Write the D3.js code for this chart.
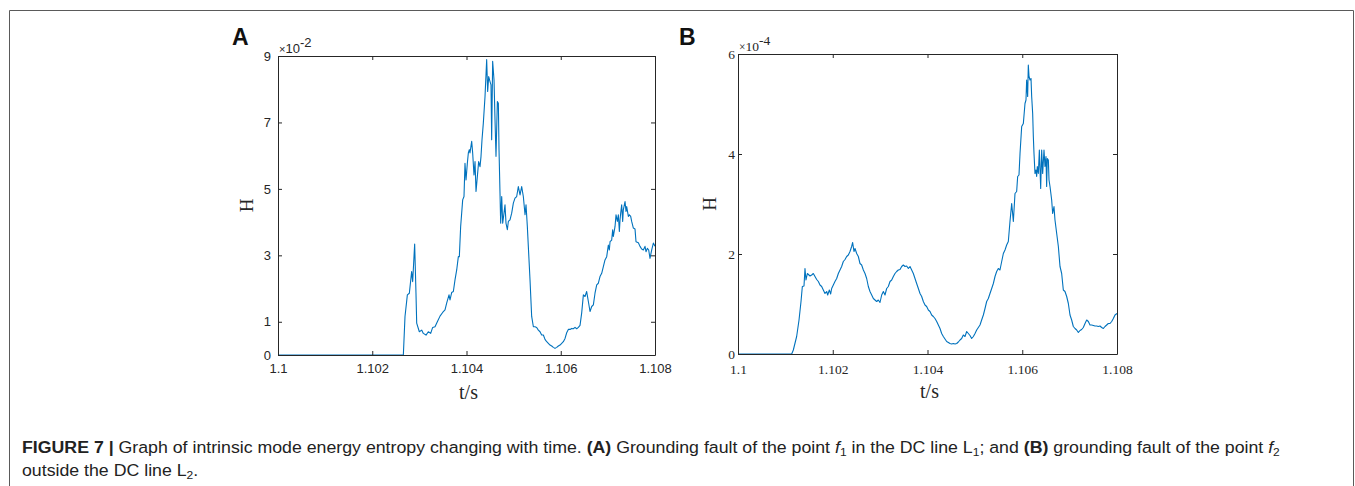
<!DOCTYPE html>
<html>
<head>
<meta charset="utf-8">
<script src="https://cdn.jsdelivr.net/npm/d3@7"></script>
<style>
  body { margin: 0; background: #fff; }
  svg { display: block; }
</style>
</head>
<body>
<div id="figure"></div>
<script>
// time is stored as ms after 1.1 s, H in units of the axis multiplier
var seriesA = [[0,0],[2.66,0],[2.695,1.16],[2.745,1.81],[2.787,1.86],[2.836,2.51],[2.858,2.21],[2.9,3.34],[2.928,1.86],[2.943,0.96],
  [2.999,0.7],[3.049,0.75],[3.084,0.65],[3.141,0.6],[3.19,0.7],[3.24,0.65],[3.282,0.83],[3.332,0.85],[3.381,1.0],[3.438,1.17],
  [3.494,1.28],[3.544,1.36],[3.579,1.56],[3.629,1.81],[3.65,1.66],[3.685,1.88],[3.721,1.91],[3.756,2.26],[3.792,2.56],[3.827,2.96],
  [3.848,2.96],[3.876,3.87],[3.919,4.67],[3.947,4.77],[3.968,5.77],[3.99,5.27],[4.018,5.77],[4.039,6.08],[4.06,6.18],[4.074,6.08],
  [4.11,6.43],[4.131,6.08],[4.159,5.42],[4.181,5.82],[4.202,4.92],[4.23,5.37],[4.258,5.82],[4.287,5.67],[4.308,5.98],[4.329,6.48],
  [4.357,6.98],[4.393,7.78],[4.428,8.89],[4.449,7.93],[4.471,8.38],[4.499,8.23],[4.52,8.13],[4.534,6.48],[4.555,8.84],[4.584,8.28],
  [4.605,7.08],[4.626,5.98],[4.655,7.63],[4.676,7.58],[4.69,6.18],[4.711,4.87],[4.725,3.97],[4.747,4.77],[4.768,3.97],[4.796,4.27],
  [4.817,4.52],[4.838,3.97],[4.867,3.77],[4.888,4.02],[4.923,4.07],[4.959,4.27],[4.994,4.57],[5.029,4.72],[5.065,4.77],[5.1,5.07],
  [5.136,4.82],[5.171,5.07],[5.206,4.77],[5.242,4.22],[5.263,4.52],[5.291,3.87],[5.312,3.27],[5.348,2.26],[5.383,1.16],[5.419,0.85],
  [5.454,0.85],[5.489,0.83],[5.525,0.75],[5.56,0.7],[5.595,0.6],[5.631,0.6],[5.666,0.47],[5.702,0.4],[5.737,0.35],[5.772,0.3],
  [5.808,0.27],[5.843,0.23],[5.878,0.2],[5.914,0.23],[5.949,0.27],[5.985,0.3],[6.02,0.35],[6.055,0.4],[6.091,0.5],[6.126,0.67],
  [6.161,0.77],[6.197,0.77],[6.232,0.8],[6.267,0.79],[6.303,0.83],[6.338,0.79],[6.374,0.83],[6.409,0.89],[6.444,1.26],[6.48,1.81],
  [6.515,1.76],[6.55,1.91],[6.586,1.61],[6.621,1.31],[6.657,1.46],[6.692,1.51],[6.727,1.86],[6.763,2.11],[6.798,2.16],[6.833,2.36],
  [6.869,2.46],[6.904,2.66],[6.939,2.86],[6.975,2.96],[7.01,3.31],[7.031,3.16],[7.046,3.41],[7.081,3.46],[7.102,3.77],[7.116,3.57],
  [7.152,3.87],[7.173,4.22],[7.201,4.02],[7.222,4.22],[7.244,3.72],[7.258,4.07],[7.272,4.27],[7.293,4.52],[7.314,4.02],[7.328,4.37],
  [7.364,4.62],[7.385,4.32],[7.399,4.47],[7.435,4.17],[7.456,4.22],[7.484,4.17],[7.505,4.02],[7.541,3.82],[7.576,3.79],[7.597,3.41],
  [7.647,3.38],[7.682,3.27],[7.717,3.19],[7.753,3.16],[7.788,3.27],[7.809,3.11],[7.838,3.21],[7.866,3.16],[7.894,2.91],[7.929,3.16],
  [7.965,3.37],[8.0,3.27]];

var seriesB = [[0,0],[1.133,0],[1.168,0.08],[1.238,0.35],[1.288,0.68],[1.33,1.05],[1.358,1.35],[1.393,1.36],[1.414,1.71],[1.435,1.48],
  [1.464,1.61],[1.52,1.56],[1.555,1.58],[1.59,1.61],[1.625,1.55],[1.661,1.49],[1.696,1.45],[1.731,1.38],[1.766,1.35],[1.801,1.28],
  [1.836,1.21],[1.872,1.25],[1.893,1.18],[1.928,1.28],[1.956,1.2],[1.977,1.31],[2.012,1.38],[2.047,1.45],[2.083,1.51],[2.118,1.61],
  [2.153,1.68],[2.188,1.75],[2.223,1.85],[2.259,1.89],[2.294,1.95],[2.329,1.98],[2.364,2.05],[2.399,2.15],[2.42,2.23],[2.448,2.05],
  [2.47,2.11],[2.505,2.01],[2.54,1.95],[2.575,1.81],[2.61,1.78],[2.646,1.68],[2.681,1.61],[2.716,1.51],[2.751,1.35],[2.786,1.25],
  [2.822,1.18],[2.857,1.11],[2.892,1.08],[2.927,1.05],[2.962,1.08],[2.997,1.03],[3.033,1.18],[3.068,1.25],[3.103,1.18],[3.138,1.31],
  [3.173,1.35],[3.209,1.45],[3.244,1.48],[3.279,1.55],[3.314,1.61],[3.349,1.65],[3.384,1.68],[3.42,1.69],[3.455,1.75],[3.49,1.78],
  [3.525,1.75],[3.56,1.76],[3.596,1.71],[3.631,1.75],[3.666,1.68],[3.701,1.61],[3.736,1.51],[3.771,1.41],[3.807,1.31],[3.842,1.21],
  [3.877,1.15],[3.912,1.05],[3.947,0.98],[3.982,0.95],[4.018,0.88],[4.053,0.85],[4.088,0.78],[4.123,0.75],[4.158,0.71],[4.194,0.65],
  [4.229,0.58],[4.264,0.51],[4.299,0.41],[4.334,0.35],[4.369,0.3],[4.405,0.25],[4.44,0.23],[4.475,0.21],[4.51,0.2],[4.545,0.21],
  [4.581,0.2],[4.616,0.21],[4.651,0.24],[4.686,0.28],[4.721,0.31],[4.756,0.38],[4.792,0.35],[4.827,0.45],[4.862,0.41],[4.897,0.37],
  [4.932,0.31],[4.968,0.35],[5.003,0.41],[5.038,0.48],[5.073,0.53],[5.108,0.58],[5.143,0.68],[5.179,0.78],[5.214,0.91],[5.249,1.05],
  [5.284,1.11],[5.319,1.21],[5.355,1.31],[5.39,1.41],[5.425,1.55],[5.46,1.65],[5.495,1.71],[5.53,1.68],[5.566,1.85],[5.601,2.01],
  [5.636,2.08],[5.671,2.18],[5.706,2.25],[5.741,2.65],[5.777,3.01],[5.812,2.65],[5.847,3.21],[5.882,3.25],[5.903,3.55],[5.931,3.58],
  [5.953,4.01],[5.988,4.55],[6.023,4.61],[6.058,5.01],[6.079,5.08],[6.093,5.48],[6.114,5.15],[6.128,5.78],[6.143,5.55],[6.164,5.48],
  [6.185,5.51],[6.199,5.15],[6.22,4.81],[6.234,4.35],[6.248,4.01],[6.269,3.61],[6.29,3.68],[6.304,3.55],[6.318,3.75],[6.34,3.61],
  [6.361,4.08],[6.389,3.31],[6.41,4.08],[6.431,3.61],[6.459,4.08],[6.48,3.75],[6.501,3.95],[6.515,3.35],[6.529,3.91],[6.551,3.88],
  [6.565,3.48],[6.586,3.35],[6.621,3.08],[6.642,2.81],[6.67,2.95],[6.691,2.68],[6.727,2.41],[6.762,2.15],[6.797,1.75],[6.832,1.61],
  [6.867,1.28],[6.902,1.25],[6.938,1.15],[6.973,1.01],[7.008,0.78],[7.043,0.68],[7.078,0.55],[7.114,0.51],[7.149,0.48],[7.184,0.43],
  [7.219,0.47],[7.254,0.49],[7.289,0.53],[7.325,0.61],[7.36,0.68],[7.395,0.65],[7.43,0.58],[7.465,0.58],[7.501,0.57],[7.536,0.56],
  [7.571,0.56],[7.606,0.55],[7.641,0.56],[7.676,0.53],[7.712,0.51],[7.747,0.55],[7.782,0.58],[7.817,0.61],[7.852,0.61],[7.888,0.65],
  [7.923,0.71],[7.958,0.78],[8.0,0.81]];

var xTicks = [1.1, 1.102, 1.104, 1.106, 1.108];
var xTickLabels = ["1.1", "1.102", "1.104", "1.106", "1.108"];
var yTicksA = [0, 1, 3, 5, 7, 9];
var yTicksB = [0, 2, 4, 6];
var expA = "-2";
var expB = "-4";

var W = 1355, H = 486;
var lineColor = "#0072BD";
var axisColor = "#262626";
var sansFont = "'Liberation Sans', Arial, Helvetica, sans-serif";
var serifFont = "'Liberation Serif', 'Times New Roman', serif";

var svg = d3.select("#figure").append("svg")
  .attr("width", W)
  .attr("height", H);

// outer frame of the figure
svg.append("path")
  .attr("d", "M9.5," + (H + 5) + "V10.5H1353.5V" + (H + 5))
  .attr("fill", "none")
  .attr("stroke", "#5a5a5a")
  .attr("stroke-width", 1);

function drawPanel(opts) {
  var g = svg.append("g").attr("transform", `translate(${opts.left}, ${opts.top})`);
  var width = opts.width, height = opts.height;

  var x = d3.scaleLinear().domain([1.1, 1.108]).range([0, width]);
  var y = d3.scaleLinear().domain([0, opts.yMax]).range([height, 0]);

  var fmtX = function (d, i) { return xTickLabels[i]; };

  var xAxis = d3.axisBottom(x).tickValues(xTicks).tickFormat(fmtX)
    .tickSizeInner(-4).tickSizeOuter(0).tickPadding(opts.xPad);
  var xTop = d3.axisTop(x).tickValues(xTicks).tickFormat("")
    .tickSizeInner(-4).tickSizeOuter(0);
  var yAxis = d3.axisLeft(y).tickValues(opts.yTicks).tickFormat(d3.format("d"))
    .tickSizeInner(-4).tickSizeOuter(0).tickPadding(opts.yPad);
  var yRight = d3.axisRight(y).tickValues(opts.yTicks).tickFormat("")
    .tickSizeInner(-4).tickSizeOuter(0);

  // data line first, box on top
  var line = d3.line()
    .x(function (d) { return x(1.1 + d[0] / 1000); })
    .y(function (d) { return y(d[1]); });

  g.append("path")
    .datum(opts.data)
    .attr("fill", "none")
    .attr("stroke", lineColor)
    .attr("stroke-width", 1.1)
    .attr("stroke-linejoin", "round")
    .attr("d", line);

  var axes = [
    g.append("g").attr("transform", `translate(0, ${height})`).call(xAxis),
    g.append("g").call(xTop),
    g.append("g").call(yAxis),
    g.append("g").attr("transform", `translate(${width}, 0)`).call(yRight)
  ];
  axes.forEach(function (a) {
    a.select(".domain").attr("stroke", axisColor).attr("stroke-width", 1);
    a.selectAll(".tick line").attr("stroke", axisColor);
    a.selectAll("text")
      .attr("font-family", opts.tickFont)
      .attr("font-size", opts.tickSize)
      .attr("fill", axisColor);
  });

  // axis labels
  g.append("text")
    .attr("transform", `translate(${opts.hX}, ${height / 2}) rotate(-90)`)
    .attr("text-anchor", "middle")
    .attr("font-family", serifFont)
    .attr("font-size", 19)
    .attr("fill", axisColor)
    .text("H");

  g.append("text")
    .attr("x", width / 2 + 2)
    .attr("y", height + 44)
    .attr("text-anchor", "middle")
    .attr("font-family", serifFont)
    .attr("font-size", 20)
    .attr("fill", axisColor)
    .text("t/s");

  // exponent label
  var ex = g.append("text")
    .attr("x", 1)
    .attr("y", -3)
    .attr("font-family", opts.tickFont)
    .attr("font-size", opts.tickSize)
    .attr("fill", axisColor);
  ex.append("tspan").attr("font-size", opts.tickSize - 2).text("\u00d7");
  ex.append("tspan").text("10");
  ex.append("tspan").attr("dy", -6).text(opts.exp);

  // panel letter
  svg.append("text")
    .attr("x", opts.letterX)
    .attr("y", 45)
    .attr("font-family", sansFont)
    .attr("font-weight", "bold")
    .attr("font-size", 23)
    .attr("fill", "#111")
    .text(opts.letter);
}

drawPanel({
  left: 278, top: 56, width: 377, height: 299,
  yMax: 9, yTicks: yTicksA, data: seriesA, exp: expA,
  tickFont: sansFont, tickSize: 13, xPad: 9, yPad: 7,
  hX: -25, letter: "A", letterX: 232
});

drawPanel({
  left: 738, top: 54, width: 379, height: 300,
  yMax: 6, yTicks: yTicksB, data: seriesB, exp: expB,
  tickFont: serifFont, tickSize: 13.5, xPad: 10, yPad: 3,
  hX: -22, letter: "B", letterX: 679
});

// caption
var cap = svg.append("g").attr("font-family", "'Liberation Sans Narrow', 'Liberation Sans', Arial, sans-serif")
  .attr("font-size", 17).attr("fill", "#222");

var l1 = cap.append("text").attr("x", 0).attr("y", 0);
l1.append("tspan").attr("font-weight", "bold").text("FIGURE 7 | ");
l1.append("tspan").text("Graph of intrinsic mode energy entropy changing with time. ");
l1.append("tspan").attr("font-weight", "bold").text("(A)");
l1.append("tspan").text(" Grounding fault of the point ");
l1.append("tspan").attr("font-style", "italic").text("f");
l1.append("tspan").attr("font-size", 11.5).attr("dy", 3).text("1");
l1.append("tspan").attr("dy", -3).text(" in the DC line L");
l1.append("tspan").attr("font-size", 11.5).attr("dy", 3).text("1");
l1.append("tspan").attr("dy", -3).text("; and ");
l1.append("tspan").attr("font-weight", "bold").text("(B)");
l1.append("tspan").text(" grounding fault of the point ");
l1.append("tspan").attr("font-style", "italic").text("f");
l1.append("tspan").attr("font-size", 11.5).attr("dy", 3).text("2");

var l2 = cap.append("text").attr("x", 0).attr("y", 23);
l2.append("tspan").text("outside the DC line L");
l2.append("tspan").attr("font-size", 11.5).attr("dy", 3).text("2");
l2.append("tspan").attr("dy", -3).text(".");

// squeeze the caption to the condensed width of the original
var w1 = l1.node().getComputedTextLength();
var sx = (1281 - 22) / w1;
cap.attr("transform", `translate(22, 453) scale(${sx}, 1)`);
</script>
</body>
</html>
